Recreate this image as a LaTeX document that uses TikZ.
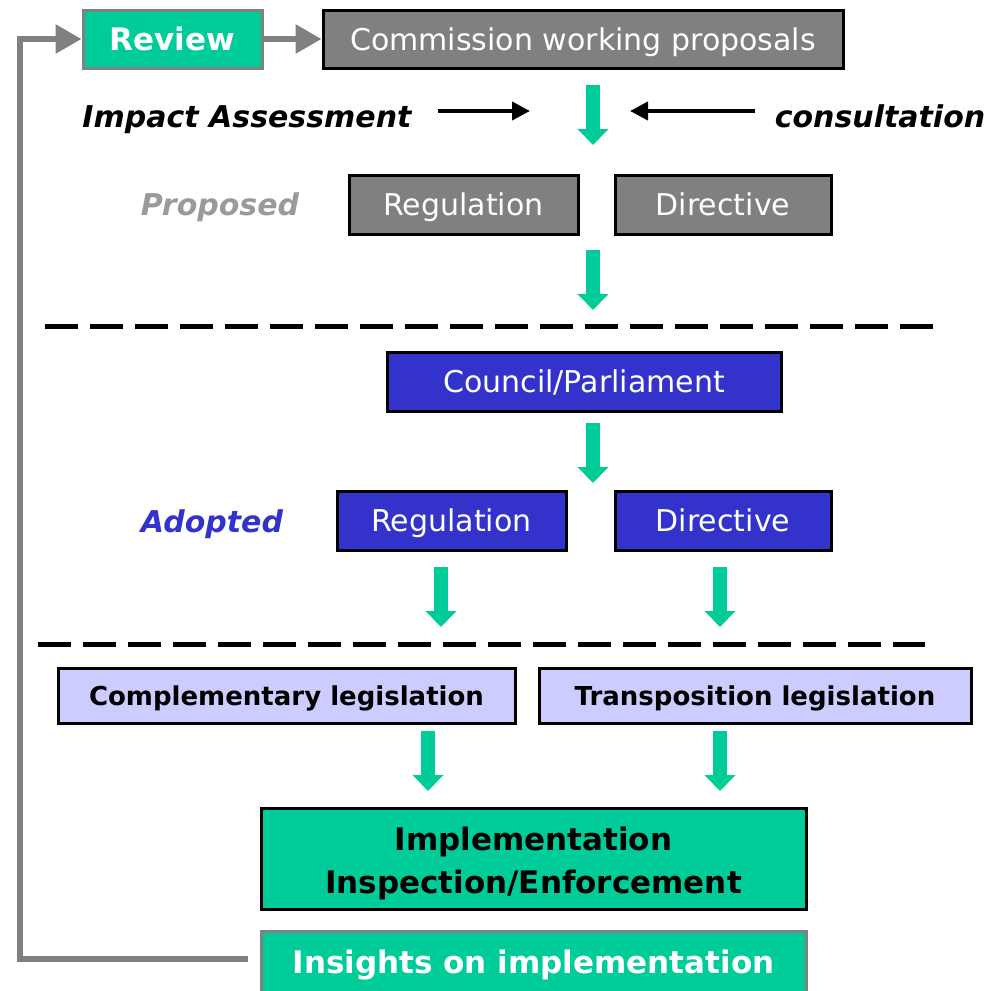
\documentclass[tikz,border=0pt]{standalone}
\usepackage{fontspec}
\setmainfont{DejaVu Sans}
\usetikzlibrary{arrows.meta,positioning}
\definecolor{eugreen}{RGB}{0,204,153}
\definecolor{eugray}{RGB}{128,128,128}
\definecolor{eublue}{RGB}{51,51,204}
\definecolor{eulav}{RGB}{204,204,255}
\tikzset{
    stagebox/.style={
           rectangle,
           draw=black,
           line width=3pt,
           inner sep=0pt,
           text centered,
           text height=22pt,
           text depth=0pt,
           font=\fontsize{30}{34}\selectfont,
           },
    propbox/.style={stagebox,fill=eugray,text=white},
    adoptbox/.style={stagebox,fill=eublue,text=white},
    legbox/.style={stagebox,fill=eulav,text height=19pt,font=\fontsize{26}{30}\selectfont\bfseries},
    stagelabel/.style={font=\fontsize{30}{34}\selectfont\bfseries\itshape,
           text height=22pt,text depth=0pt,inner sep=0pt},
    flowarrow/.style={draw=eugreen,line width=14pt,-{Triangle[width=30pt,length=16pt]}},
    inputarrow/.style={draw=black,line width=4pt,-{Triangle[width=18pt,length=18pt]}},
    feedback/.style={draw=eugray,line width=6pt,-{Triangle[width=28pt,length=26pt]}},
    divider/.style={line width=5pt,dash pattern=on 33pt off 12pt},
}

\begin{document}
\begin{tikzpicture}[x=1pt,y=-1pt]
\useasboundingbox (0,0) rectangle (994,991);
% top row
\node[stagebox,fill=eugreen,draw=eugray,text=white,minimum width=179,minimum height=58,
      text height=22.6pt,font=\fontsize{31}{34}\selectfont\bfseries] (review) at (172.5,39) {Review};
\node[propbox,minimum width=520,minimum height=58] (commission) at (583,39) {Commission working proposals};
\draw[feedback] (review) -- (commission);
\node[stagelabel] (impact) at (247,116) {Impact Assessment};
\node[stagelabel] (consult) at (880,116) {consultation};
\coordinate (impactstart) at (438,111);
\coordinate (impactend) at (530,111);
\coordinate (consultstart) at (755,111);
\coordinate (consultend) at (630,111);
\draw[inputarrow] (impactstart) -- (impactend);
\draw[inputarrow] (consultstart) -- (consultend);
% proposed
\node[stagelabel,text=eugray!80] (proposed) at (220,204) {Proposed};
\node[propbox,minimum width=229,minimum height=59] (propreg) at (463.5,204.5) {Regulation};
\node[propbox,minimum width=216,minimum height=59] (propdir) at (723,204.5) {Directive};
\draw[flowarrow] (593,85) -- (593,145);
\draw[flowarrow] (593,250) -- (593,310);
\draw[divider] (45,326) -- (935,326);
% adopted
\node[adoptbox,minimum width=394,minimum height=59] (council) at (584,381.5) {Council/Parliament};
\draw[flowarrow] (593,423) -- (593,483);
\node[stagelabel,text=eublue] (adopted) at (212,521) {Adopted};
\node[adoptbox,minimum width=229,minimum height=59] (adreg) at (451.5,520.5) {Regulation};
\node[adoptbox,minimum width=216,minimum height=59] (addir) at (723,520.5) {Directive};
\draw[flowarrow] (441,567) -- (441,627);
\draw[flowarrow] (720,567) -- (720,627);
\draw[divider] (38,644) -- (925,644);
% national level
\node[legbox,minimum width=457,minimum height=55] (compl) at (286.5,695.5) {Complementary legislation};
\node[legbox,minimum width=432,minimum height=55] (transp) at (755,695.5) {Transposition legislation};
\draw[flowarrow] (428,731) -- (428,791);
\draw[flowarrow] (720,731) -- (720,791);
\node[stagebox,fill=eugreen,minimum width=545,minimum height=101,align=center,text height=69.6pt,text depth=0pt,
      font=\fontsize{31}{43}\selectfont\bfseries] (impl) at (533.5,858.5) {Implementation\\Inspection/Enforcement};
\node[stagebox,fill=eugreen,draw=eugray,text=white,minimum width=545,minimum height=62,
      text height=22.6pt,font=\fontsize{31}{34}\selectfont\bfseries] (insights) at (533.5,962) {Insights on implementation};
\coordinate (loopx) at (20,0);
\coordinate (loopstart) at (248,959);
\draw[feedback] (loopstart) -- (loopx |- loopstart) -- (loopx |- review.west) -- (review.west);
\end{tikzpicture}
\end{document}
